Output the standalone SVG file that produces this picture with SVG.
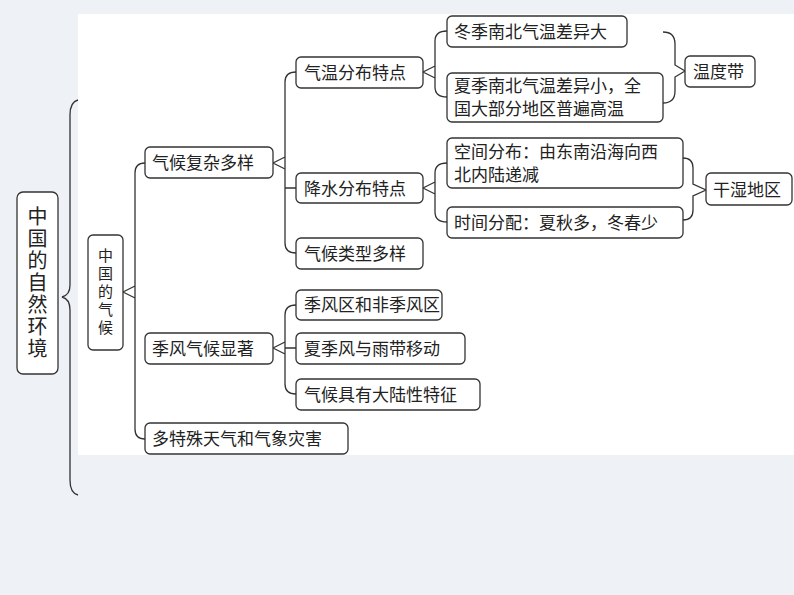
<svg xmlns="http://www.w3.org/2000/svg" width="794" height="595" viewBox="0 0 794 595">
<style>
.n rect{fill:#fff;stroke:#333;stroke-width:1.3}
text{font-family:"Noto Sans CJK SC","Noto Sans CJK JP",sans-serif;font-size:17px;fill:#222}
.v{writing-mode:vertical-rl;text-orientation:upright}
.c path{fill:none;stroke:#333;stroke-width:1.3}
</style>
<rect width="794" height="595" fill="#eef1f6"/>
<rect x="78" y="14" width="716" height="441" fill="#fff"/>
<g class="c">
<path d="M78,100 Q70,102 70,115 L70,285 Q70,295 62,297 Q70,299 70,310 L70,480 Q70,493 78,495"/>
<path d="M123,292 L135,286 M123,292 L135,298 M145,163 Q135,163 135,173 L135,429 Q135,439 145,439"/>
<path d="M273,163 L285,157 M273,163 L285,169 M296,72 Q285,72 285,82 L285,243 Q285,253 296,253 M285,188 L296,188"/>
<path d="M273,348 L285,342 M273,348 L285,354 M296,305 Q285,305 285,315 L285,384 Q285,394 296,394 M285,348 L296,348"/>
<path d="M423,72 L435,66 M423,72 L435,78 M447,31 Q435,31 435,41 L435,87 Q435,97 447,97"/>
<path d="M423,188 L435,182 M423,188 L435,194 M447,163 Q435,163 435,173 L435,212 Q435,222 447,222"/>
<path d="M663,32 Q675,32 675,44 L675,65 L685,71 L675,77 L675,91 Q675,103 663,103"/>
<path d="M683,158 Q693,158 693,168 L693,184 L706,190 L693,196 L693,210 Q693,220 683,220"/>
</g>
<g id="root" class="n"><rect x="17" y="192" width="41" height="182" rx="6"/>
<text class="v" x="37.5" y="206" style="font-size:20px;letter-spacing:2px">中国的自然环境</text>
</g>
<g id="n1" class="n"><rect x="88" y="235" width="35" height="115" rx="5"/>
<text class="v" x="105.5" y="248" style="font-size:15px;letter-spacing:3px">中国的气候</text></g>
<g id="a" class="n"><rect x="145" y="147" width="128" height="31" rx="5"/><text x="152" y="169">气候复杂多样</text></g>
<g id="b" class="n"><rect x="145" y="333" width="128" height="31" rx="5"/><text x="152" y="355">季风气候显著</text></g>
<g id="c" class="n"><rect x="145" y="423" width="203" height="31" rx="5"/><text x="152" y="445">多特殊天气和气象灾害</text></g>
<g id="a1" class="n"><rect x="296" y="57" width="127" height="31" rx="5"/><text x="304" y="79">气温分布特点</text></g>
<g id="a2" class="n"><rect x="296" y="173" width="127" height="30" rx="5"/><text x="304" y="195">降水分布特点</text></g>
<g id="a3" class="n"><rect x="296" y="238" width="127" height="31" rx="5"/><text x="304" y="260">气候类型多样</text></g>
<g id="t1" class="n"><rect x="447" y="16" width="180" height="31" rx="5"/><text x="454" y="38">冬季南北气温差异大</text></g>
<g id="t2" class="n"><rect x="447" y="73" width="216" height="49" rx="5"/><text x="454" y="92">夏季南北气温差异小，全</text><text x="454" y="115">国大部分地区普遍高温</text></g>
<g id="wd" class="n"><rect x="685" y="56" width="70" height="31" rx="5"/><text x="693" y="78">温度带</text></g>
<g id="p1" class="n"><rect x="447" y="138" width="236" height="50" rx="5"/><text x="454" y="158">空间分布：由东南沿海向西</text><text x="454" y="181">北内陆递减</text></g>
<g id="p2" class="n"><rect x="447" y="207" width="236" height="31" rx="5"/><text x="454" y="229">时间分配：夏秋多，冬春少</text></g>
<g id="gs" class="n"><rect x="706" y="173" width="86" height="32" rx="5"/><text x="713" y="196">干湿地区</text></g>
<g id="b1" class="n"><rect x="296" y="290" width="146" height="30" rx="5"/><text x="304" y="311">季风区和非季风区</text></g>
<g id="b2" class="n"><rect x="296" y="333" width="169" height="31" rx="5"/><text x="304" y="355">夏季风与雨带移动</text></g>
<g id="b3" class="n"><rect x="296" y="379" width="184" height="31" rx="5"/><text x="304" y="401">气候具有大陆性特征</text></g>
</svg>
